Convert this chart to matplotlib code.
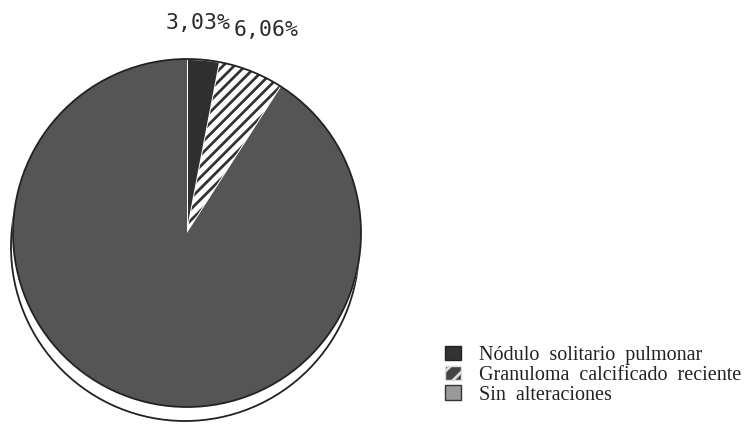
import matplotlib
matplotlib.use("Agg")
import matplotlib.pyplot as plt
from matplotlib.patches import Circle, Patch

# Diagnoses and their share of cases (%)
categories = ["Nódulo  solitario  pulmonar", "Granuloma  calcificado  reciente", "Sin  alteraciones"]
percentages = [3.03, 6.06, 90.91]
labels_shown = [f"{v:.2f}%".replace(".", ",") for v in percentages[:2]]

face_colors = ["#2f2f2f", "white", "#484848"]
hatches = [None, "///", None]

plt.rcParams["hatch.linewidth"] = 2.0
plt.rcParams["hatch.color"] = "#333333"

fig = plt.figure(figsize=(7.52, 4.24), dpi=100)
ax = fig.add_axes([0, 0, 1, 1])
ax.set_xlim(0, 752)
ax.set_ylim(0, 424)
ax.set_aspect("equal")
ax.axis("off")

cx, cy, r = 187, 191, 174

# Depth outline below the disc
ax.add_patch(Circle((cx - 2, cy - 14), r, facecolor="white", edgecolor="#222222",
                    lw=1.3, zorder=1))

wedges, _ = ax.pie(percentages, center=(cx, cy), radius=r, startangle=90,
                   counterclock=False, colors=face_colors,
                   wedgeprops=dict(edgecolor="white", linewidth=1.4))
for w, h in zip(wedges, hatches):
    w.set_zorder(2)
    if h:
        w.set_hatch(h)
        w.set_edgecolor("#333333")
        w.set_linewidth(0)

# Faint horizontal grain on the large slice
grain, _ = ax.pie(percentages, center=(cx, cy), radius=r, startangle=90,
                  counterclock=False, colors=["none"] * 3)
for i, g in enumerate(grain):
    g.set_zorder(2.5)
    g.set_linewidth(0)
    if i == 2:
        g.set_hatch("------")
        g.set_edgecolor("#555555")
        g.set_linewidth(0)
    else:
        g.set_visible(False)

# Outer rim of the disc
ax.add_patch(Circle((cx, cy), r, facecolor="none", edgecolor="#222222", lw=1.3, zorder=3))

ax.set_xlim(0, 752)
ax.set_ylim(0, 424)
ax.axis("off")

# Percentage labels above the small slices
ax.text(198, 401, labels_shown[0], ha="center", va="center", fontsize=15.5,
        family="DejaVu Sans Mono", color="#2a2a2a")
ax.text(266, 394, labels_shown[1], ha="center", va="center", fontsize=15.5,
        family="DejaVu Sans Mono", color="#2a2a2a")

handles = [
    Patch(facecolor="#333333", edgecolor="#222222"),
    Patch(facecolor="#444444", edgecolor="#dddddd", hatch="//"),
    Patch(facecolor="#9a9a9a", edgecolor="#333333"),
]
leg = ax.legend(handles, categories, loc="upper left",
                bbox_to_anchor=(445 / 752, 1 - 346 / 424), frameon=False,
                prop={"family": "Liberation Serif", "size": 14.5},
                handlelength=0.8, handleheight=0.7, handletextpad=0.9,
                labelspacing=0.03, borderaxespad=0, borderpad=0)
for t in leg.get_texts():
    t.set_color("#222222")

fig.savefig("out.png", dpi=100)
